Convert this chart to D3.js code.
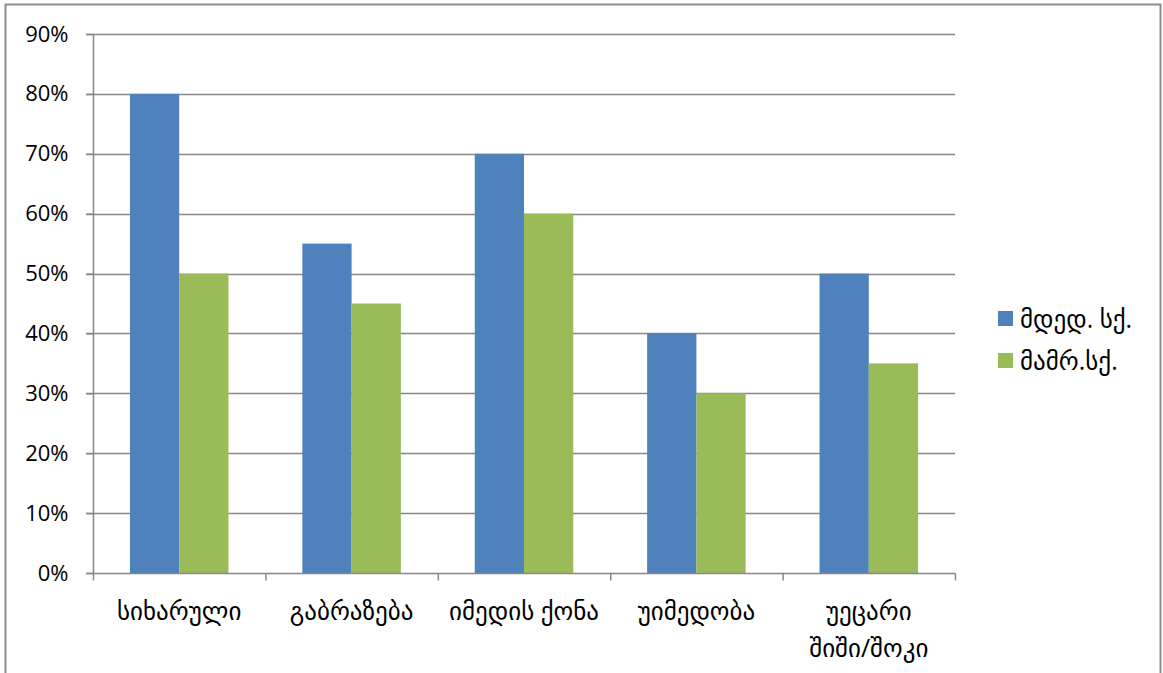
<!DOCTYPE html>
<html>
<head>
<meta charset="utf-8">
<script src="https://cdn.jsdelivr.net/npm/d3@7"></script>
<style>
  html, body { margin: 0; padding: 0; background: #fff; }
  svg { display: block; }
  text { font-family: "Open Sans", "DejaVu Sans", sans-serif; fill: #000; }
</style>
</head>
<body>
<svg id="chart" width="1163" height="673"></svg>
<script>
// Chart data
const categories = ["სიხარული", "გაბრაზება", "იმედის ქონა", "უიმედობა", "უეცარი შიში/შოკი"];
const categoryLines = [["სიხარული"], ["გაბრაზება"], ["იმედის ქონა"], ["უიმედობა"], ["უეცარი", "შიში/შოკი"]];
const seriesNames = ["მდედ. სქ.", "მამრ.სქ."];
const female = [80, 55, 70, 40, 50];
const male = [50, 45, 60, 30, 35];
const yTicks = [0, 10, 20, 30, 40, 50, 60, 70, 80, 90];
const colors = ["#4F81BD", "#9BBB59"];

const svg = d3.select("#chart");

// Outer frame
svg.append("rect")
  .attr("x", 5.5).attr("y", 4.5)
  .attr("width", 1155).attr("height", 700)
  .attr("fill", "#fff").attr("stroke", "#8c8c8c").attr("stroke-width", 2);

const plot = { left: 93, right: 955, top: 34, bottom: 573 };

const x0 = d3.scaleBand().domain(categories).range([plot.left, plot.right]).paddingInner(0).paddingOuter(0);
const gapRatio = 1.5; // gap between groups, relative to one bar width
const barW = x0.bandwidth() / (2 + gapRatio);
const x1 = d3.scaleBand().domain([0, 1]).range([barW * gapRatio / 2, barW * gapRatio / 2 + 2 * barW]);
const y = d3.scaleLinear().domain([0, 90]).range([plot.bottom, plot.top]);

// Gridlines
svg.append("g").selectAll("line").data(yTicks.filter(d => d > 0)).join("line")
  .attr("x1", plot.left - 7).attr("x2", plot.right)
  .attr("y1", d => Math.round(y(d)) + 0.5).attr("y2", d => Math.round(y(d)) + 0.5)
  .attr("stroke", "#888").attr("stroke-width", 1.5);

// Bars
const data = categories.map((c, i) => ({ c, v: [female[i], male[i]] }));
const groups = svg.append("g").selectAll("g").data(data).join("g")
  .attr("transform", d => `translate(${x0(d.c)},0)`);
groups.selectAll("rect").data(d => d.v.map((v, s) => ({ v, s }))).join("rect")
  .attr("x", d => x1(d.s)).attr("width", x1.bandwidth())
  .attr("y", d => y(d.v)).attr("height", d => y(0) - y(d.v))
  .attr("fill", d => colors[d.s]);

// Y axis
const yAxis = d3.axisLeft(y).tickValues(yTicks).tickSize(7).tickFormat(d => d + "%").tickPadding(18);
const gy = svg.append("g").attr("transform", `translate(${plot.left + 0.5},0)`).call(yAxis);
gy.select(".domain").attr("stroke", "#888").attr("stroke-width", 1.5).attr("d", `M0,${plot.top}V${plot.bottom}`);
gy.selectAll(".tick line").attr("stroke", "#888").attr("stroke-width", 1.5);
gy.selectAll(".tick text").style("font-size", "22px").style("font-family", "'Open Sans', 'DejaVu Sans', sans-serif").attr("fill", "#000");

// X axis
const gx = svg.append("g").attr("transform", `translate(0,${plot.bottom + 0.5})`);
gx.append("line").attr("x1", plot.left - 7).attr("x2", plot.right + 0.5)
  .attr("stroke", "#888").attr("stroke-width", 1.5);
const boundaries = categories.map(c => x0(c)).concat([plot.right]);
gx.selectAll("line.tk").data(boundaries).join("line").attr("class", "tk")
  .attr("x1", d => d + 0.5).attr("x2", d => d + 0.5).attr("y1", 0).attr("y2", 7)
  .attr("stroke", "#888").attr("stroke-width", 1.5);

const labels = svg.append("g").selectAll("text").data(categories).join("text")
  .attr("x", d => x0(d) + x0.bandwidth() / 2)
  .attr("y", 620)
  .attr("text-anchor", "middle")
  .style("font-size", "25px");
labels.selectAll("tspan").data((d, i) => categoryLines[i]).join("tspan")
  .attr("x", function () { return d3.select(this.parentNode).attr("x"); })
  .attr("dy", (d, i) => i === 0 ? 0 : 37)
  .text(d => d);

// Legend
const legend = svg.append("g").selectAll("g").data(seriesNames).join("g")
  .attr("transform", (d, i) => `translate(998,${311 + i * 42})`);
legend.append("rect").attr("width", 15).attr("height", 15).attr("fill", (d, i) => colors[i]);
legend.append("text").attr("x", 22).attr("y", 17).style("font-size", "25px").text(d => d);
</script>
</body>
</html>
